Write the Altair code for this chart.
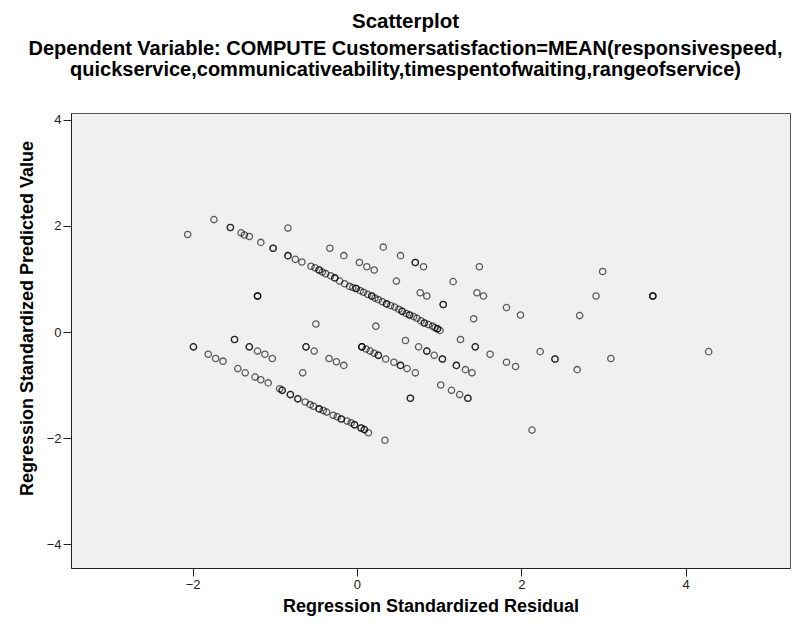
import altair as alt
import pandas as pd

# Values (dark circles = overlapping cases, repeated)
upper_res = [-2.06, -1.74, -1.54, -1.54, -1.41, -1.37, -1.31, -1.17, -1.02, -1.02,
             -0.84, -0.84, -0.84, -0.75, -0.67, -0.56, -0.51, -0.46, -0.46, -0.42, -0.38,
             -0.32, -0.27, -0.27, -0.21, -0.15, -0.09, -0.05, -0.01, -0.01, 0.04, 0.08,
             0.13, 0.18, 0.18, 0.22, 0.26, 0.31, 0.36, 0.36, 0.41, 0.46, 0.51, 0.55, 0.55,
             0.60, 0.64, 0.64, 0.69, 0.73, 0.78, 0.82, 0.82, 0.87, 0.92, 0.95, 0.98, 0.98, 1.01,
             -0.33, -0.16, 0.03, 0.12, 0.21, 0.32, 0.53, 0.71, 0.71, 0.81, 1.49,
             0.48, 1.17, 0.77, 0.85, 1.05, 1.05, 1.46, 1.54, 1.82, 1.99, 1.42,
             -0.50, 0.23, 2.99, 2.91, 3.60, 3.60, 3.60, 2.71, -1.21, -1.21, -1.21]
upper_pred = [1.84, 2.12, 1.97, 1.97, 1.87, 1.83, 1.80, 1.69, 1.58, 1.58,
              1.96, 1.44, 1.44, 1.37, 1.32, 1.24, 1.21, 1.17, 1.17, 1.13, 1.10,
              1.06, 1.02, 1.02, 0.96, 0.91, 0.86, 0.84, 0.82, 0.82, 0.78, 0.75,
              0.71, 0.68, 0.68, 0.64, 0.61, 0.57, 0.53, 0.53, 0.50, 0.47, 0.43, 0.39, 0.39,
              0.35, 0.32, 0.32, 0.29, 0.26, 0.21, 0.17, 0.17, 0.14, 0.11, 0.08, 0.06, 0.06, 0.03,
              1.58, 1.44, 1.31, 1.23, 1.17, 1.60, 1.44, 1.31, 1.31, 1.23, 1.23,
              0.96, 0.95, 0.74, 0.68, 0.52, 0.52, 0.74, 0.68, 0.46, 0.32, 0.25,
              0.15, 0.11, 1.14, 0.68, 0.68, 0.68, 0.68, 0.31, 0.68, 0.68, 0.68]

middle_res = [-1.99, -1.99, -1.81, -1.72, -1.63, -1.49, -1.49, -1.31, -1.31, -1.21, -1.12, -1.03,
              -0.62, -0.62, -0.52, -0.34, -0.25, -0.16, -0.66,
              0.06, 0.06, 0.06, 0.11, 0.16, 0.21, 0.26, 0.26, 0.35, 0.45, 0.53, 0.53, 0.61, 0.71,
              0.59, 0.75, 0.85, 0.85, 0.94, 1.04, 1.04,
              1.26, 1.44, 1.44, 1.62, 1.82, 1.93,
              1.21, 1.21, 1.32, 1.40,
              1.02, 1.15, 1.25, 1.35, 1.35,
              0.65, 0.65,
              2.23, 2.41, 2.41, 2.68, 3.09, 4.28,
              2.13, 0.34]
middle_pred = [-0.28, -0.28, -0.42, -0.50, -0.55, -0.14, -0.14, -0.28, -0.28, -0.36, -0.42, -0.50,
               -0.28, -0.28, -0.36, -0.50, -0.56, -0.63, -0.77,
               -0.28, -0.28, -0.28, -0.32, -0.36, -0.40, -0.44, -0.44, -0.51, -0.57, -0.63, -0.63, -0.69, -0.77,
               -0.16, -0.28, -0.36, -0.36, -0.44, -0.51, -0.51,
               -0.14, -0.28, -0.28, -0.42, -0.57, -0.65,
               -0.63, -0.63, -0.71, -0.77,
               -1.00, -1.10, -1.18, -1.25, -1.25,
               -1.25, -1.25,
               -0.37, -0.51, -0.51, -0.71, -0.50, -0.37,
               -1.85, -2.04]

lower_res = [-1.45, -1.36, -1.24, -1.17, -1.08, -0.94, -0.91, -0.91, -0.81, -0.81,
             -0.72, -0.72, -0.63, -0.57, -0.53, -0.46, -0.46, -0.41, -0.37, -0.29,
             -0.24, -0.19, -0.19, -0.12, -0.07, -0.03, -0.03, 0.05, 0.05, 0.09, 0.09, 0.14]
lower_pred = [-0.69, -0.77, -0.85, -0.90, -0.96, -1.07, -1.10, -1.10, -1.18, -1.18,
              -1.26, -1.26, -1.32, -1.37, -1.40, -1.45, -1.45, -1.48, -1.51, -1.57,
              -1.60, -1.64, -1.64, -1.68, -1.71, -1.75, -1.75, -1.81, -1.81, -1.84, -1.84, -1.90]

x_ticks = [-2, 0, 2, 4]
y_ticks = [-4, -2, 0, 2, 4]

df = pd.DataFrame({
    "residual": upper_res + middle_res + lower_res,
    "predicted": upper_pred + middle_pred + lower_pred,
})

FONT = "Liberation Sans"

chart = alt.Chart(df).mark_point(
    shape="circle", filled=False, size=40, color="#000000",
    strokeWidth=1.3, opacity=0.62
).encode(
    x=alt.X("residual:Q",
            scale=alt.Scale(domain=[-3.48, 5.27], nice=False, zero=False),
            axis=alt.Axis(values=x_ticks, title="Regression Standardized Residual",
                          grid=False, tickSize=8, labelPadding=2, titlePadding=6)),
    y=alt.Y("predicted:Q",
            scale=alt.Scale(domain=[-4.45, 4.13], nice=False, zero=False),
            axis=alt.Axis(values=y_ticks, title="Regression Standardized Predicted Value",
                          grid=False, tickSize=8, labelPadding=2,
                          titleX=-44, titleY=205, titleAngle=270,
                          titleAlign="center", titleBaseline="middle")),
).properties(
    width=719,
    height=455,
    autosize=alt.AutoSizeParams(type="none"),
    padding={"left": 63, "top": 105, "right": 4, "bottom": 53},
    background="white",
    title=alt.TitleParams(
        text="Scatterplot",
        subtitle=["Dependent Variable: COMPUTE Customersatisfaction=MEAN(responsivespeed,",
                  "quickservice,communicativeability,timespentofwaiting,rangeofservice)"],
        anchor="middle", dx=-25, offset=33,
        font=FONT, fontSize=20.5, fontWeight="bold", color="#000000",
        subtitleFont=FONT, subtitleFontSize=20, subtitleFontWeight="bold",
        subtitleColor="#000000", subtitleLineHeight=21, subtitlePadding=7,
    ),
).configure_view(
    fill="#f0f0f0", stroke="#555555", strokeWidth=1
).configure_axis(
    domainColor="#222222", tickColor="#222222", labelColor="#222222",
    labelFont=FONT, labelFontSize=13, titleFont=FONT, titleFontSize=18,
    titleFontWeight="bold", titleColor="#000000"
)

chart.save("out.html", embed_options={"renderer": "svg", "actions": False})
